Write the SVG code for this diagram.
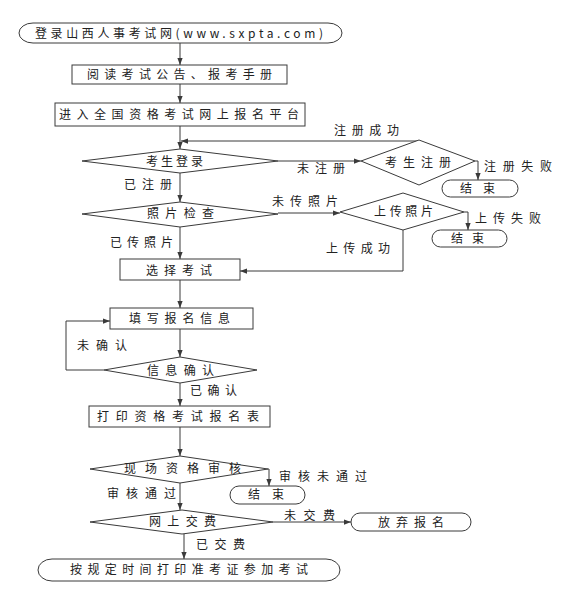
<svg xmlns="http://www.w3.org/2000/svg" width="561" height="589" viewBox="0 0 561 589">
<style>
.s{fill:#fff;stroke:#3a3a3a;stroke-width:1}
.c{fill:none;stroke:#3a3a3a;stroke-width:1}
text{font-family:"Noto Sans CJK SC","Liberation Sans",sans-serif;font-size:12px;fill:#222}
</style>
<defs>
<marker id="a" viewBox="0 0 8 8" refX="8" refY="4" markerWidth="7" markerHeight="7" orient="auto" markerUnits="userSpaceOnUse">
<path d="M0,1 L8,4 L0,7 Z" fill="#3a3a3a"/>
</marker>
</defs>
<rect width="561" height="589" fill="#fff"/>
<g id="connectors">
<path class="c" marker-end="url(#a)" d="M180,43 V65"/>
<path class="c" marker-end="url(#a)" d="M180,84 V103"/>
<path class="c" marker-end="url(#a)" d="M180,126 V149"/>
<path class="c" marker-end="url(#a)" d="M419,141 H181"/>
<path class="c" marker-end="url(#a)" d="M278,161 H361"/>
<path class="c" marker-end="url(#a)" d="M475,161 H478 V180"/>
<path class="c" marker-end="url(#a)" d="M180,173 V202"/>
<path class="c" marker-end="url(#a)" d="M278,213 H340"/>
<path class="c" marker-end="url(#a)" d="M464,212 H468 V230"/>
<path class="c" marker-end="url(#a)" d="M403,230 V271 H240"/>
<path class="c" marker-end="url(#a)" d="M180,227 V259"/>
<path class="c" marker-end="url(#a)" d="M180,280 V308"/>
<path class="c" marker-end="url(#a)" d="M180,329 V357"/>
<path class="c" marker-end="url(#a)" d="M104,370 H66 V321 H110"/>
<path class="c" marker-end="url(#a)" d="M180,383 V406"/>
<path class="c" marker-end="url(#a)" d="M180,427 V456"/>
<path class="c" marker-end="url(#a)" d="M268,469 H269 V486"/>
<path class="c" marker-end="url(#a)" d="M180,483 V510"/>
<path class="c" marker-end="url(#a)" d="M273,522 H351"/>
<path class="c" marker-end="url(#a)" d="M184,534 V559"/>
<text x="334" y="135" textLength="65" lengthAdjust="spacing">注册成功</text>
<text x="297" y="173" textLength="48" lengthAdjust="spacing">未注册</text>
<text x="484" y="171" textLength="68" lengthAdjust="spacing">注册失败</text>
<text x="124" y="189" textLength="48" lengthAdjust="spacing">已注册</text>
<text x="272" y="206" textLength="66" lengthAdjust="spacing">未传照片</text>
<text x="475" y="223" textLength="66" lengthAdjust="spacing">上传失败</text>
<text x="110" y="247" textLength="63" lengthAdjust="spacing">已传照片</text>
<text x="326" y="253" textLength="64" lengthAdjust="spacing">上传成功</text>
<text x="77" y="350" textLength="50" lengthAdjust="spacing">未确认</text>
<text x="190" y="395" textLength="47" lengthAdjust="spacing">已确认</text>
<text x="279" y="481" textLength="88" lengthAdjust="spacing">审核未通过</text>
<text x="107" y="498" textLength="69" lengthAdjust="spacing">审核通过</text>
<text x="284" y="520" textLength="51" lengthAdjust="spacing">未交费</text>
<text x="196" y="549" textLength="49" lengthAdjust="spacing">已交费</text>
</g>
<g id="n1"><rect class="s" x="19" y="23" width="323" height="20" rx="14" ry="10"/><text x="35" y="37.5" textLength="288" lengthAdjust="spacing">登录山西人事考试网(www.sxpta.com)</text></g>
<g id="n2"><rect class="s" x="72" y="65" width="215" height="19"/><text x="87" y="79" textLength="185" lengthAdjust="spacing">阅读考试公告、报考手册</text></g>
<g id="n3"><rect class="s" x="55" y="103" width="250" height="23"/><text x="59" y="119" textLength="240" lengthAdjust="spacing">进入全国资格考试网上报名平台</text></g>
<g id="n4"><polygon class="s" points="82,161 180,149 278,161 180,173"/><text x="146" y="165.5" textLength="57" lengthAdjust="spacing">考生登录</text></g>
<g id="n5"><polygon class="s" points="361,161 419,140 475,161 419,185"/><text x="385" y="166.5" textLength="66" lengthAdjust="spacing">考生注册</text></g>
<g id="n6"><rect class="s" x="442" y="180" width="76" height="17" rx="8.5"/><text x="460" y="192.5" textLength="35" lengthAdjust="spacing">结束</text></g>
<g id="n7"><polygon class="s" points="82,214 180,202 278,214 180,227"/><text x="147" y="218" textLength="67" lengthAdjust="spacing">照片检查</text></g>
<g id="n8"><polygon class="s" points="340,212 403,193 464,212 403,230"/><text x="374" y="215.5" textLength="59" lengthAdjust="spacing">上传照片</text></g>
<g id="n9"><rect class="s" x="432" y="230" width="75" height="17" rx="8.5"/><text x="451" y="242.5" textLength="33" lengthAdjust="spacing">结束</text></g>
<g id="n10"><rect class="s" x="120" y="259" width="120" height="21"/><text x="146" y="274.5" textLength="66" lengthAdjust="spacing">选择考试</text></g>
<g id="n11"><rect class="s" x="110" y="308" width="143" height="21"/><text x="129" y="323" textLength="101" lengthAdjust="spacing">填写报名信息</text></g>
<g id="n12"><polygon class="s" points="104,370 180,357 257,370 180,383"/><text x="147" y="374.5" textLength="67" lengthAdjust="spacing">信息确认</text></g>
<g id="n13"><rect class="s" x="89" y="406" width="181" height="21"/><text x="97" y="421" textLength="162" lengthAdjust="spacing">打印资格考试报名表</text></g>
<g id="n14"><polygon class="s" points="90,469 180,456 268,469 180,483"/><text x="124" y="472.5" textLength="117" lengthAdjust="spacing">现场资格审核</text></g>
<g id="n15"><rect class="s" x="230" y="486" width="75" height="18" rx="9"/><text x="248" y="499" textLength="36" lengthAdjust="spacing">结束</text></g>
<g id="n16"><polygon class="s" points="90,522 182,510 273,522 182,534"/><text x="149" y="525.5" textLength="67" lengthAdjust="spacing">网上交费</text></g>
<g id="n17"><rect class="s" x="351" y="513" width="120" height="18" rx="9"/><text x="378" y="526.5" textLength="66" lengthAdjust="spacing">放弃报名</text></g>
<g id="n18"><rect class="s" x="38" y="559" width="302" height="22" rx="14" ry="11"/><text x="70" y="574" textLength="238" lengthAdjust="spacing">按规定时间打印准考证参加考试</text></g>
</svg>
